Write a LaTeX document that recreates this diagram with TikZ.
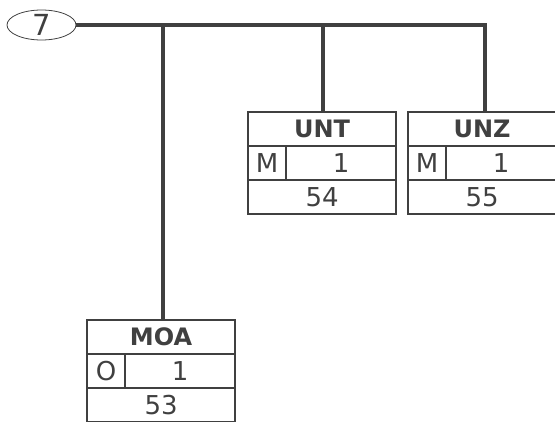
\documentclass[tikz,border=0pt]{standalone}
\usepackage{fontspec}
\setmainfont{DejaVu Sans}
\usetikzlibrary{shapes.geometric}
\definecolor{ink}{HTML}{404040}
\tikzset{
  trunk/.style={draw=ink, line width=3.2pt},
  cell/.style={draw=ink, line width=2.2pt, minimum height=34pt, inner sep=0pt, anchor=north west, text=ink, font=\fontsize{26}{26}\selectfont},
}
\newcommand\segbox[7]{%
  \node[cell, minimum width=148pt, font=\fontsize{24}{24}\selectfont\bfseries] (#1) at (#2,#3) {#4};
  \node[cell, minimum width=38pt] (#1s) at (#2,#3+34) {#5};
  \node[cell, minimum width=110pt] (#1r) at (#2+38,#3+34) {#6};
  \node[cell, minimum width=148pt] (#1n) at (#2,#3+68) {#7};
}
\begin{document}
\begin{tikzpicture}[x=1pt,y=-1pt]
\useasboundingbox (0,0) rectangle (555,421);
\node[draw=ink, line width=0.8pt, ellipse, minimum width=69pt, minimum height=30pt, inner sep=0pt, text=ink, font=\fontsize{29}{29}\selectfont] (seg) at (41.5,25) {7};
\segbox{unt}{247}{111}{UNT}{M}{1}{54}
\segbox{unz}{407}{111}{UNZ}{M}{1}{55}
\segbox{moa}{86}{319}{MOA}{O}{1}{53}
\coordinate (j1) at (163,25);
\coordinate (j2) at (323,25);
\coordinate (j3) at (485,25);
\draw[trunk] (seg.east) -- (j3) -- (j3 |- unz.north);
\draw[trunk] (j1) -- (j1 |- moa.north);
\draw[trunk] (j2) -- (j2 |- unt.north);
\end{tikzpicture}
\end{document}
